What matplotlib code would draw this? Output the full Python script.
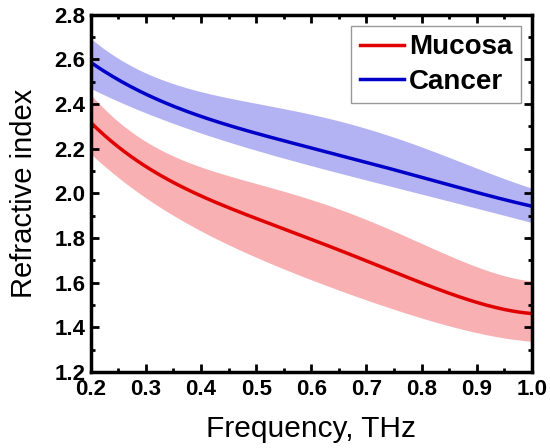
import numpy as np
import matplotlib
matplotlib.use('Agg')
import matplotlib.pyplot as plt
from matplotlib.ticker import MultipleLocator

plt.rcParams['font.family'] = ['Liberation Sans', 'DejaVu Sans']

# values
freq = [0.2, 0.3, 0.4, 0.5, 0.6, 0.7, 0.8, 0.9, 1.0]

mucosa = [2.32, 2.11, 2.00, 1.885, 1.79, 1.70, 1.595, 1.515, 1.46]
mucosa_hi = [2.44, 2.24, 2.12, 2.03, 1.97, 1.90, 1.77, 1.665, 1.61]
mucosa_lo = [2.18, 1.97, 1.84, 1.715, 1.61, 1.52, 1.44, 1.38, 1.335]

cancer = [2.59, 2.435, 2.35, 2.275, 2.20, 2.135, 2.07, 2.01, 1.94]
cancer_hi = [2.70, 2.52, 2.47, 2.41, 2.35, 2.28, 2.21, 2.12, 2.02]
cancer_lo = [2.47, 2.36, 2.27, 2.195, 2.12, 2.06, 2.00, 1.93, 1.87]


def smooth(x, y, n=200):
    # low order fit through the read points, for a smooth curve
    xs = np.linspace(x[0], x[-1], n)
    coef = np.polyfit(x, y, 4)
    return xs, np.polyval(coef, xs)


fig = plt.figure(figsize=(5.5, 4.48), dpi=100)
ax = fig.add_axes([0.165, 0.170, 0.802, 0.797])

xs, m_hi = smooth(freq, mucosa_hi)
_, m_lo = smooth(freq, mucosa_lo)
_, m = smooth(freq, mucosa)
_, c_hi = smooth(freq, cancer_hi)
_, c_lo = smooth(freq, cancer_lo)
_, c = smooth(freq, cancer)

ax.fill_between(xs, m_lo, m_hi, color='#f8b0b2', lw=0)
ax.fill_between(xs, c_lo, c_hi, color='#b3b3f4', lw=0)
ax.plot(xs, m, color='#e00000', lw=2.5, label='Mucosa')
ax.plot(xs, c, color='#0000c8', lw=2.5, label='Cancer')

ax.set_xlim(0.2, 1.0)
ax.set_ylim(1.2, 2.8)
ax.xaxis.set_major_locator(MultipleLocator(0.1))
ax.xaxis.set_minor_locator(MultipleLocator(0.05))
ax.yaxis.set_major_locator(MultipleLocator(0.2))
ax.yaxis.set_minor_locator(MultipleLocator(0.1))
ax.tick_params(which='both', direction='in', top=True, right=True, width=2)
ax.tick_params(which='major', length=6, labelsize=16)
ax.tick_params(axis='x', which='major', pad=5)
ax.tick_params(axis='y', which='major', pad=4)
ax.tick_params(which='minor', length=3)
ax.set_xticklabels(['%.1f' % v for v in ax.get_xticks()], fontweight='bold')
ax.set_yticklabels(['%.1f' % v for v in ax.get_yticks()], fontweight='bold')
for sp in ax.spines.values():
    sp.set_linewidth(2.5)

ax.set_xlabel('Frequency, THz', fontsize=21.5, labelpad=11)
ax.set_ylabel('Refractive index', fontsize=21, labelpad=12)

leg = ax.legend(loc='upper right', prop={'weight': 'bold', 'size': 20},
                frameon=True, fancybox=False, edgecolor='#808080',
                handlelength=1.6, handletextpad=0.18, borderpad=0.3,
                labelspacing=0.3, borderaxespad=0.4)
leg.get_frame().set_linewidth(1.0)

fig.savefig('out.png', dpi=100)
